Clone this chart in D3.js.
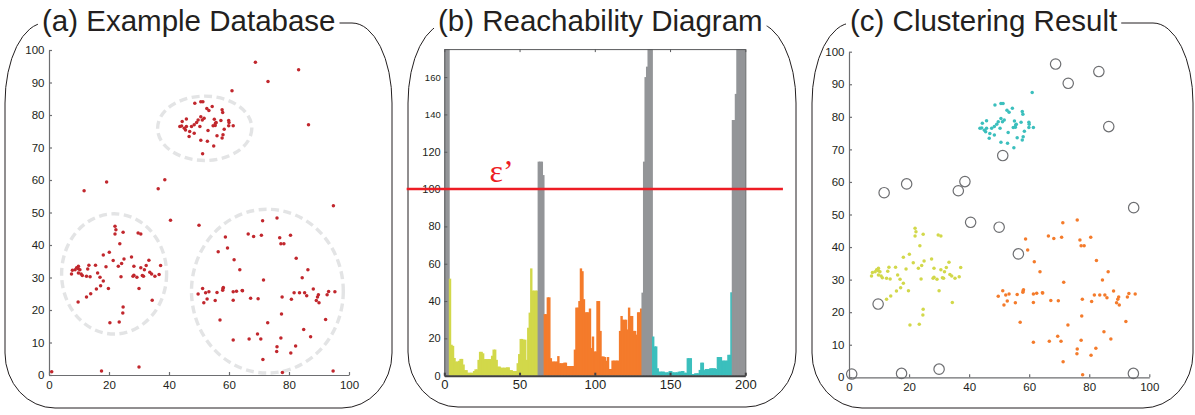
<!DOCTYPE html>
<html><head><meta charset="utf-8">
<script src="https://cdn.jsdelivr.net/npm/d3@7"></script>
<style>
body{margin:0;background:#fff;}
svg{display:block;font-family:"Liberation Sans",Arial,sans-serif;}
</style>
</head><body>
<svg id="chart" width="1195" height="415"></svg>
<script>
// ---------------- DATA ----------------
const titles = ["(a) Example Database", "(b) Reachability Diagram", "(c) Clustering Result"];

const cyanX = [61.0,48.6,50.6,51.3,52.6,53.3,54.4,57.7,57.9,44.4,45.8,43.6,44.2,45.1,45.8,45.5,46.9,47.5,48.4,49.2,49.7,50.6,51.1,51.7,48.4,46.7,50.3,53.0,55.1,55.5,55.7,54.7,55.4,57.3,58.4,59.9,60.0,59.9,61.4,56.0,58.0,57.7,50.6,52.8,54.9];
const cyanY = [87.5,83.6,84.1,84.1,82.0,81.4,82.6,81.6,80.8,78.0,78.8,76.5,76.6,75.9,76.5,75.4,74.9,76.5,77.0,77.7,78.5,79.5,78.5,79.0,74.4,73.4,76.5,75.2,78.7,77.5,77.7,76.7,76.8,78.3,75.6,78.3,77.7,76.7,76.7,73.6,73.9,72.9,72.2,71.9,70.5];

const yellowX = [22.0,22.3,22.0,24.7,29.7,30.6,23.6,20.1,18.1,25.0,27.5,21.4,24.2,23.1,33.3,19.0,15.5,13.3,9.8,9.2,8.7,7.8,9.8,10.3,12.9,7.5,9.8,10.7,11.1,12.5,13.7,16.2,17.0,18.1,17.2,15.8,13.9,12.5,19.8,24.0,28.3,28.0,29.3,31.1,31.5,28.3,30.6,31.8,32.4,33.6,34.2,35.3,36.7,37.2,30.0,34.4,24.7,24.6,23.4,20.3];
const yellowY = [45.8,44.7,43.4,43.9,43.7,43.4,40.4,37.8,36.9,35.7,36.3,35.2,34.3,33.5,35.3,33.3,33.8,33.8,33.5,33.0,32.4,32.2,32.7,32.4,32.6,31.1,31.4,31.1,30.6,30.4,30.2,31.4,30.1,28.9,27.5,26.5,25.0,24.0,26.6,30.2,30.7,30.4,30.1,30.6,30.4,33.5,33.0,32.4,33.7,31.6,31.1,30.4,30.9,33.7,26.6,23.0,20.9,19.1,16.3,16.1];

const orangeX = [71.2,76.0,58.8,66.4,68.2,70.8,76.9,80.5,77.3,78.3,59.5,61.7,82.4,63.6,86.3,84.4,71.5,51.2,49.7,52.2,53.3,52.7,51.6,56.0,55.4,58.0,58.1,57.9,61.4,62.5,61.4,64.4,64.5,67.2,69.7,77.7,80.8,81.7,83.5,85.2,85.9,88.1,89.1,89.5,89.8,90.0,92.7,93.2,95.3,57.0,77.5,72.9,92.2,84.9,87.2,69.5,61.4,66.7,70.6,77.3,76.0,82.2,75.9,80.6,71.3,77.8];
const orangeY = [47.5,48.3,42.5,43.4,42.6,43.0,42.2,43.0,40.4,40.4,39.1,35.5,35.9,32.4,32.4,29.9,29.2,26.6,24.9,25.3,25.6,23.4,22.2,25.4,22.9,26.6,26.9,26.1,25.6,25.8,23.0,26.0,25.9,23.6,23.5,24.0,23.3,25.3,25.3,25.3,24.4,26.5,22.9,24.0,24.7,22.2,24.7,25.7,25.6,16.9,18.8,16.1,17.1,14.0,11.8,12.6,10.8,11.1,11.1,11.4,8.7,8.9,7.2,6.8,4.8,0.8];

const noiseX = [68.8,73.0,83.2,86.5,51.2,11.7,19.2,36.4,38.6,40.5,50.0,56.4,94.8,9.7,0.9,17.5,30.0,94.7];
const noiseY = [96.2,90.3,93.9,77.0,68.1,56.7,59.4,57.3,60.1,47.6,46.1,37.9,52.1,22.5,1.0,1.2,2.5,1.2];

// dashed cluster outlines in (a), in data units
const ellipseCX = [51.9, 21.7, 72.8];
const ellipseCY = [75.9, 31.1, 25.8];
const ellipseRX = [15.7, 17.5, 25.3];
const ellipseRY = [9.9, 18.5, 25.2];

// reachability plot (200 points in OPTICS order)
const reachValues = [
 250,250,250,
 52,16.6,16,9.5,7.6,7.6,8,9,9,6,3,3,1.6,1.6,1.6,1.6,2.5,3.4,3.4,8.5,12.8,12.8,12,8.9,8.9,8.9,8.9,8.9,10.7,14,14,8.5,4.9,4.9,4.3,4.3,4.3,4.3,4.5,4.5,3,3,2.5,2.5,2.5,6.7,11.6,19.7,19.7,19.3,19.3,8.5,25.7,33.8,57.5,45.6,45.6,45.6,45.6,
 114.7,114.7,114.7,107.5,
 33,33,42,42,9.4,7.6,7.6,7.6,7.6,10.5,6.7,6.7,6.7,7,7,5.2,5.2,5.2,5.2,5.2,14,36.5,36.5,40,57.5,56,41,34,34,34,36,14.8,21,13,13,40,40,24,10.3,10.3,10,8,10,3.6,3.6,8.1,8.1,8.1,8.1,8.1,24,32,30,30,30,24.8,36.5,32,32,24,24,22,34,34,36,
 44.5,114.7,160,165.6,250,250,250,
 21,15.7,15.7,4,2.2,2.2,2.2,2.2,1.8,1.8,1.8,2.5,2.5,1.8,1.8,1.8,1.8,2.2,2.2,2.5,2.5,1.6,1.6,9.4,9.4,9.4,0.9,0.9,1.3,1.3,1.3,3.1,7,7,3,3.6,3.6,3.6,4,4,4,4,3.6,10,10,10,8.1,8.1,8.1,8.1,11.2,11.2,44.7,
 137,137,151,250,250,250,250,250,250
];
// run lengths of cluster labels along the ordering
const reachRunLabels = ["noise","yellow","noise","orange","noise","cyan","noise"];
const reachRunLengths = [3, 59, 4, 65, 7, 53, 9];
const epsilon = 100;
const epsLineFrom = -25, epsLineTo = 225, epsLabelX = 30;

const ticksA_x = [0,20,40,60,80,100];
const ticksA_y = [0,10,20,30,40,50,60,70,80,90,100];
const ticksB_x = [0,50,100,150,200];
const ticksB_y = [0,20,40,60,80,100,120,140,160];

const colors = {yellow:"#d2d84a", orange:"#f47b2b", cyan:"#3bbfbd", noise:"#939598", red:"#c1272d", eps:"#ed1c24"};

// ---------------- DRAW ----------------
const svg = d3.select("#chart");

function framePath(L, R, T, B) {
  const rxT = 40, ryT = 80, rxB = 50, ryB = 55;
  return `M${L+rxT},${T} H${R-rxT} A${rxT},${ryT} 0 0 1 ${R},${T+ryT} V${B-ryB} A${rxB},${ryB} 0 0 1 ${R-rxB},${B} H${L+rxB} A${rxB},${ryB} 0 0 1 ${L},${B-ryB} V${T+ryT} A${rxT},${ryT} 0 0 1 ${L+rxT},${T} Z`;
}
const frames = [[5,392,23,408],[408,796,23,407],[812,1193,23,408]];
const titleX = [42, 438, 850];
frames.forEach(f => svg.append("path").attr("d", framePath(...f)).attr("fill","none").attr("stroke","#231f20").attr("stroke-width",1));
titles.forEach((t,i) => {
  const txt = svg.append("text").attr("x", titleX[i]).attr("y", 31).attr("font-size", 29.5).attr("fill","#231f20").text(t);
  const bb = txt.node().getBBox();
  svg.insert("rect", "text").attr("x", bb.x-4).attr("y", 14).attr("width", bb.width+8).attr("height", 18).attr("fill","#fff");
});

function styleAxis(g, lineColor, lw, fs) {
  g.attr("font-family", null).attr("font-size", null);
  g.select(".domain").attr("stroke", lineColor).attr("stroke-width", lw);
  g.selectAll(".tick line").attr("stroke", lineColor).attr("stroke-width", lw);
  g.selectAll(".tick text").attr("fill", "#231f20").style("font-size", fs);
}

// ----- Panel (a)
const xA = d3.scaleLinear().domain([0,100]).range([49,349]);
const yA = d3.scaleLinear().domain([0,100]).range([375,50]);
const gA = svg.append("g");
gA.selectAll("ellipse").data(ellipseCX).join("ellipse")
  .attr("cx", (d,i) => xA(ellipseCX[i])).attr("cy", (d,i) => yA(ellipseCY[i]))
  .attr("rx", (d,i) => xA(ellipseRX[i]) - xA(0)).attr("ry", (d,i) => yA(0) - yA(ellipseRY[i]))
  .attr("fill","none").attr("stroke","#e3e4e5").attr("stroke-width",3.4).attr("stroke-dasharray","8 4.5");
gA.append("g").attr("transform","translate(0,375)")
  .call(d3.axisBottom(xA).tickValues(ticksA_x).tickSize(-3).tickSizeOuter(0).tickPadding(6))
  .call(g => styleAxis(g, "#6d6e71", 1.2, "11.5px"));
gA.append("g").attr("transform","translate(49,0)")
  .call(d3.axisLeft(yA).tickValues(ticksA_y).tickSize(-3).tickSizeOuter(0).tickPadding(4.5))
  .call(g => styleAxis(g, "#6d6e71", 1.2, "11.5px"));
const allX = [].concat(cyanX, yellowX, orangeX, noiseX);
const allY = [].concat(cyanY, yellowY, orangeY, noiseY);
gA.selectAll("circle.pt").data(allX).join("circle").attr("class","pt")
  .attr("cx", d => xA(d)).attr("cy", (d,i) => yA(allY[i])).attr("r", 1.75).attr("fill", colors.red);

// ----- Panel (b)
const xB = d3.scaleLinear().domain([0,200]).range([444.3,745.3]);
const yB = d3.scaleLinear().domain([0,175]).range([375.7,49.1]);
const reachLabels = [];
reachRunLabels.forEach((l,i) => { for (let k=0;k<reachRunLengths[i];k++) reachLabels.push(l); });
const gB = svg.append("g");
gB.selectAll("rect.bar").data(reachValues).join("rect").attr("class","bar")
  .attr("x", (d,i) => xB(i)).attr("width", (d,i) => xB(i+1)-xB(i) + (i < reachValues.length-1 ? 0.9 : 0))
  .attr("y", d => yB(Math.min(d, 175))).attr("height", d => yB(0)-yB(Math.min(d,175)))
  .attr("fill", (d,i) => colors[reachLabels[i]]);
gB.append("g").attr("transform",`translate(0,${yB(175)})`)
  .call(d3.axisTop(xB).tickValues(ticksB_x).tickSize(-3).tickSizeOuter(0).tickFormat(""))
  .call(g => styleAxis(g, "#58595b", 1, "11px"));
gB.append("g").attr("transform",`translate(${xB(200)},0)`)
  .call(d3.axisRight(yB).tickValues([]).tickSizeOuter(0))
  .call(g => styleAxis(g, "#58595b", 1, "11px"));
gB.append("g").attr("transform",`translate(${xB(0)},0)`)
  .call(d3.axisLeft(yB).tickValues(ticksB_y).tickSize(-3).tickSizeOuter(0).tickPadding(3.6))
  .call(g => styleAxis(g, "#58595b", 1, "11px"))
  .call(g => g.selectAll(".tick text").style("font-size", d => d >= 140 ? "9.5px" : "11px"));
gB.append("g").attr("transform",`translate(0,${yB(0)})`)
  .call(d3.axisBottom(xB).tickValues(ticksB_x).tickSize(-3).tickSizeOuter(0).tickPadding(4.5))
  .call(g => styleAxis(g, "#414042", 2, "13px"));
gB.append("line").attr("x1", xB(epsLineFrom)).attr("x2", xB(epsLineTo))
  .attr("y1", yB(epsilon)).attr("y2", yB(epsilon)).attr("stroke", colors.eps).attr("stroke-width", 2.6);
gB.append("text").attr("x", xB(epsLabelX)).attr("y", yB(epsilon) - 7.5)
  .attr("font-family", "'Liberation Serif','Times New Roman',serif").attr("font-size", 32)
  .attr("fill", colors.eps).text("\u03B5\u2019");

// ----- Panel (c)
const xC = d3.scaleLinear().domain([0,100]).range([849,1149.3]);
const yC = d3.scaleLinear().domain([0,100]).range([377.3,51.7]);
const gC = svg.append("g");
gC.append("g").attr("transform",`translate(0,${yC(0)})`)
  .call(d3.axisBottom(xC).tickValues(ticksA_x).tickSize(-3).tickSizeOuter(0).tickPadding(6))
  .call(g => styleAxis(g, "#6d6e71", 1.2, "11.5px"));
gC.append("g").attr("transform",`translate(${xC(0)},0)`)
  .call(d3.axisLeft(yC).tickValues(ticksA_y).tickSize(-3).tickSizeOuter(0).tickPadding(4.5))
  .call(g => styleAxis(g, "#6d6e71", 1.2, "11.5px"));
[[cyanX,cyanY,colors.cyan],[yellowX,yellowY,colors.yellow],[orangeX,orangeY,colors.orange]].forEach(([xs,ys,c]) => {
  gC.append("g").selectAll("circle").data(xs).join("circle")
    .attr("cx", d => xC(d)).attr("cy", (d,i) => yC(ys[i])).attr("r", 1.75).attr("fill", c);
});
gC.append("g").selectAll("circle").data(noiseX).join("circle")
  .attr("cx", d => xC(d)).attr("cy", (d,i) => yC(noiseY[i])).attr("r", 5.2)
  .attr("fill","none").attr("stroke","#6d6e71").attr("stroke-width",1.2);
</script>
</body></html>
